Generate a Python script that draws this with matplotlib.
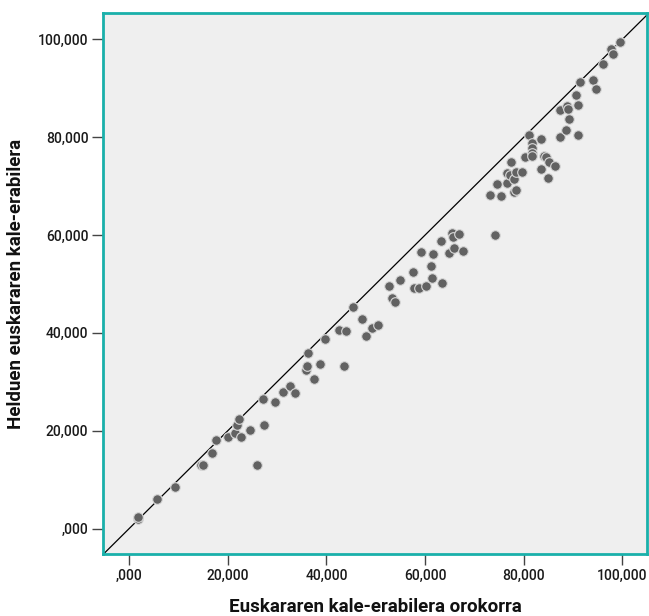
import matplotlib
matplotlib.use("Agg")
import matplotlib.pyplot as plt
from matplotlib.ticker import FuncFormatter

# euskararen kale-erabilera orokorra (x) vs helduena (y), %
orokorra = [1.7, 1.7, 5.7, 9.3, 14.6, 15.0, 16.7, 17.6, 20.1, 21.4,
            22.6, 21.9, 22.2, 24.5, 25.9, 27.4, 27.2, 29.5, 31.1, 32.7,
            33.6, 35.8, 36.1, 36.3, 37.4, 38.6, 39.7, 42.5, 44.0, 43.6,
            45.3, 47.2, 48.0, 49.3, 50.4, 52.6, 53.2, 54.0, 55.0, 57.6,
            57.7, 58.7, 60.2, 59.2, 61.7, 61.2, 61.3, 63.4, 63.3, 64.8,
            65.8, 65.4, 65.7, 66.9, 67.6, 74.1, 73.1, 75.3, 74.5, 76.7,
            78.1, 78.4, 76.6, 77.3, 78.1, 78.5, 79.6, 77.5, 80.2, 81.1,
            81.7, 81.6, 81.6, 81.7, 83.5, 83.4, 84.2, 84.6, 85.1, 86.3,
            84.9, 87.3, 88.5, 89.1, 87.3, 88.7, 89.0, 91.0, 90.5, 90.9,
            91.4, 94.0, 94.7, 96.0, 97.6, 98.0, 99.5]
helduak = [1.9, 2.4, 6.0, 8.6, 12.9, 12.9, 15.5, 18.1, 18.7, 19.5,
           18.7, 21.1, 22.3, 20.1, 12.9, 21.2, 26.4, 25.9, 27.9, 29.1,
           27.8, 32.4, 33.2, 35.9, 30.5, 33.7, 38.8, 40.6, 40.3, 33.2,
           45.3, 42.8, 39.3, 41.0, 41.7, 49.6, 47.2, 46.4, 50.8, 52.5,
           49.1, 49.1, 49.5, 56.6, 56.2, 53.6, 51.3, 50.2, 58.7, 56.4,
           57.3, 60.4, 59.5, 60.2, 56.7, 60.0, 68.1, 67.9, 70.4, 70.7,
           68.9, 69.3, 72.7, 72.2, 71.5, 72.9, 72.8, 74.9, 75.9, 80.5,
           78.9, 77.8, 76.8, 76.2, 79.7, 73.6, 76.2, 76.0, 75.0, 74.2,
           71.6, 80.0, 81.5, 83.8, 85.6, 86.4, 85.7, 86.6, 88.6, 80.5,
           91.2, 91.7, 89.8, 95.0, 98.0, 97.1, 99.5]

ticks = [0, 20, 40, 60, 80, 100]


def fmt(v, pos):
    s = f"{v:.3f}".replace(".", ",")
    if s.startswith("0,"):
        s = s[1:]
    return s


plt.rcParams['font.family'] = ['Roboto', 'DejaVu Sans']

fig = plt.figure(figsize=(6.49, 6.16), dpi=100)
ax = fig.add_axes([0.1587, 0.1006, 0.8383, 0.8784])
ax.set_facecolor('#efefef')

ax.axline((0, 0), slope=1, color='black', linewidth=0.9, zorder=2)
ax.scatter(orokorra, helduak, s=48, color='#626262', edgecolors='#d8d8d8',
           linewidths=0.8, zorder=3)

ax.set_xlim(-5.3, 105.0)
ax.set_ylim(-5.2, 105.4)
ax.set_xticks(ticks)
ax.set_yticks(ticks)
ax.xaxis.set_major_formatter(FuncFormatter(fmt))
ax.yaxis.set_major_formatter(FuncFormatter(fmt))
ax.tick_params(direction='out', length=8, width=1, color='#444444',
               labelsize=10, labelcolor='#1a1a1a', pad=2.5)
for lab in ax.get_xticklabels() + ax.get_yticklabels():
    lab.set_fontweight('medium')

for sp in ax.spines.values():
    sp.set_color('#1ab0aa')
    sp.set_linewidth(2)

ax.set_xlabel('Euskararen kale-erabilera orokorra', fontsize=13.5,
              fontweight='bold', color='#111111', labelpad=11)
ax.set_ylabel('Helduen euskararen kale-erabilera', fontsize=13.5,
              fontweight='bold', color='#111111', labelpad=9)

fig.savefig('out.png', dpi=100)
